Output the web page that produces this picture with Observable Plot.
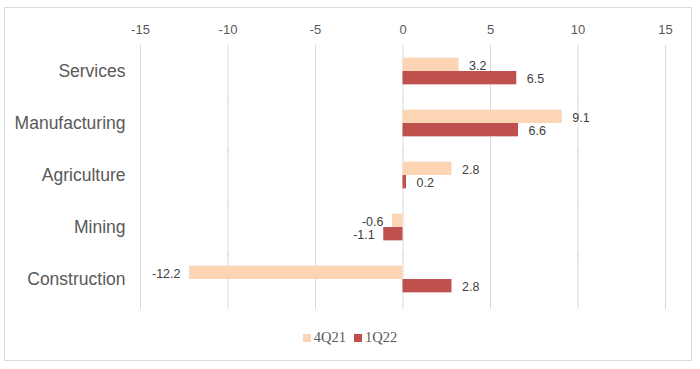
<!DOCTYPE html>
<html>
<head>
<meta charset="utf-8">
<script src="https://cdn.jsdelivr.net/npm/d3@7"></script>
<script src="https://cdn.jsdelivr.net/npm/@observablehq/plot@0.6"></script>
<style>
  html, body { margin: 0; padding: 0; background: #fff; }
  #wrap { position: relative; width: 700px; height: 369px; }
  #frame { position: absolute; left: 4px; top: 7px; width: 688px; height: 354px; border: 1px solid #d9d9d9; box-sizing: border-box; }
  #chart { position: absolute; left: 0; top: 0; }
  #chart svg { display: block; }
  #chart [aria-label^="x-axis"] text { font-family: "Liberation Sans Narrow", "Liberation Sans", sans-serif; font-size: 13px; fill: #595959; }
  #chart [aria-label^="fy-axis"] text { font-family: "Liberation Sans", Arial, sans-serif; font-size: 17.5px; fill: #595959; }
  #legend { position: absolute; left: 0; top: 324px; width: 700px; text-align: center; font-family: "Liberation Serif", serif; font-size: 14.5px; color: #595959; line-height: 26px; }
  #legend span.sw { display: inline-block; width: 8px; height: 8px; margin-right: 3px; vertical-align: 0px; }
  #legend span.it { margin: 0 4px; }
</style>
</head>
<body>
<div id="wrap">
  <div id="frame"></div>
  <div id="chart"></div>
  <div id="legend"></div>
</div>
<script>
const categories = ["Services", "Manufacturing", "Agriculture", "Mining", "Construction"];
const series = ["4Q21", "1Q22"];
const values4Q21 = [3.2, 9.1, 2.8, -0.6, -12.2];
const values1Q22 = [6.5, 6.6, 0.2, -1.1, 2.8];
const xTicks = [-15, -10, -5, 0, 5, 10, 15];
const colors = ["#fcd5b4", "#c0504d"];

const data = [];
categories.forEach((c, i) => {
  data.push({category: c, series: "4Q21", value: values4Q21[i]});
  data.push({category: c, series: "1Q22", value: values1Q22[i]});
});

const labelStyle = {fontSize: 12.5, fontFamily: "Liberation Sans, Arial, sans-serif", fill: "#404040"};

const plot = Plot.plot({
  width: 700,
  height: 324,
  marginLeft: 140,
  marginRight: 35,
  marginTop: 43,
  marginBottom: 17,
  style: {fontFamily: "Liberation Sans Narrow, Liberation Sans, sans-serif", color: "#595959", background: "transparent"},
  x: {domain: [-15, 15], ticks: xTicks, axis: "top", tickSize: 0, tickPadding: 12, label: null, tickFormat: d => String(d)},
  fy: {domain: categories, padding: 0, label: null, axis: "left", tickSize: 0, tickPadding: 15},
  y: {domain: series, axis: null, paddingInner: 0, paddingOuter: 0.95, round: false},
  color: {domain: series, range: colors},
  marks: [
    Plot.ruleX(xTicks, {stroke: "#d9d9d9", strokeWidth: 1, insetBottom: -4}),
    Plot.barX(data, {x: "value", y: "series", fy: "category", fill: "series"}),
    Plot.text(data.filter(d => d.value >= 0), {x: "value", y: "series", fy: "category", text: d => d.value.toFixed(1), textAnchor: "start", dx: 10, dy: 1, ...labelStyle}),
    Plot.text(data.filter(d => d.value < 0), {x: "value", y: "series", fy: "category", text: d => d.value.toFixed(1), textAnchor: "end", dx: -9, dy: 1, ...labelStyle})
  ]
});
document.getElementById("chart").appendChild(plot);

const legend = document.getElementById("legend");
legend.innerHTML = series.map((s, i) =>
  `<span class="it"><span class="sw" style="background:${colors[i]}"></span>${s}</span>`).join("");
</script>
</body>
</html>
